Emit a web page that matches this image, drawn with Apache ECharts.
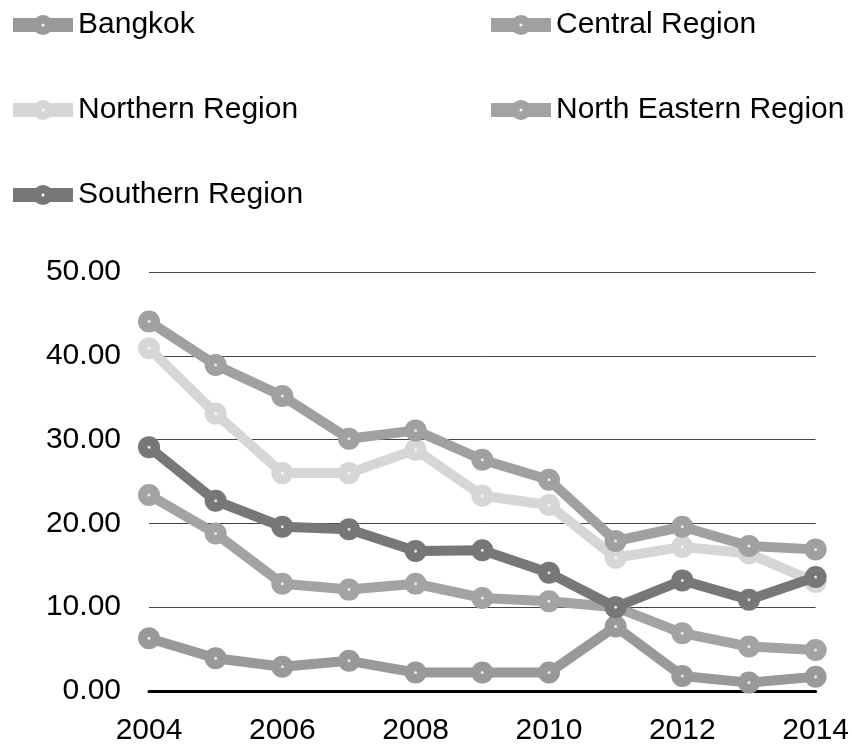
<!DOCTYPE html>
<html>
<head>
<meta charset="utf-8">
<title>Regions 2004-2014</title>
<script src="https://cdn.jsdelivr.net/npm/echarts@6/dist/echarts.min.js"></script>
<style>
    html, body { margin: 0; padding: 0; background: #fff; }
    #lineChart { width: 852px; height: 746px; }
</style>
</head>
<body>
<div id="lineChart"></div>
<script>
// data
var years = ['2004', '2005', '2006', '2007', '2008', '2009', '2010', '2011', '2012', '2013', '2014'];
var bangkok = [6.3, 3.9, 2.9, 3.6, 2.2, 2.2, 2.2, 7.7, 1.8, 1.0, 1.7];
var central = [44.1, 38.9, 35.2, 30.1, 31.1, 27.6, 25.2, 17.9, 19.6, 17.3, 16.9];
var northern = [40.9, 33.1, 26.0, 26.0, 28.8, 23.3, 22.2, 15.9, 17.2, 16.4, 13.0];
var northEastern = [23.4, 18.8, 12.8, 12.1, 12.8, 11.1, 10.7, 10.0, 6.9, 5.3, 4.9];
var southern = [29.1, 22.7, 19.6, 19.3, 16.7, 16.8, 14.1, 10.0, 13.2, 10.9, 13.6];
var yTicks = [0, 10, 20, 30, 40, 50];

var FONT = '"Liberation Sans", Arial, sans-serif';

// 图例图标: 粗线 + 圆点, 中间留白点
var LEGEND_ICON = 'path://M0,3 L22.86,3 A10,10 0 0,1 37.14,3 L60,3 L60,17 L37.14,17 A10,10 0 0,1 22.86,17 L0,17 Z ' +
    'M30,8.5 A1.5,1.5 0 1,0 30,11.5 A1.5,1.5 0 1,0 30,8.5 Z';

/**
 * 生成一条折线(带实心圆点)以及圆点中心的小白点
 */
function makeLine(name, data, color, z) {
    return [{
        name: name,
        type: 'line',
        data: data,
        z: z,
        symbol: 'circle',
        symbolSize: 22,
        lineStyle: { color: color, width: 10 },
        itemStyle: { color: color },
        emphasis: { disabled: true },
        animation: false
    }, {
        name: name + ' dot',
        type: 'scatter',
        data: data,
        z: z + 0.5,
        symbol: 'circle',
        symbolSize: 3,
        itemStyle: { color: '#fff' },
        emphasis: { disabled: true },
        silent: true,
        animation: false
    }];
}

/**
 * 生成一列图例
 */
function makeLegend(names, left) {
    return {
        data: names.map(function (n) { return { name: n, icon: LEGEND_ICON }; }),
        orient: 'vertical',
        left: left,
        top: 10,
        padding: 0,
        itemGap: 55,
        itemWidth: 60,
        itemHeight: 20,
        selectedMode: false,
        itemStyle: { borderWidth: 0 },
        textStyle: { fontFamily: FONT, fontSize: 30, color: '#000', lineHeight: 30 }
    };
}

function loadChart() {
    var myChart = echarts.init(document.getElementById('lineChart'));
    var series = [].concat(
        makeLine('Bangkok', bangkok, '#999999', 2),
        makeLine('Central Region', central, '#a0a0a0', 3),
        makeLine('Northern Region', northern, '#d6d6d6', 2),
        makeLine('North Eastern Region', northEastern, '#a3a3a3', 2),
        makeLine('Southern Region', southern, '#777777', 4)
    );
    var option = {
        backgroundColor: '#fff',
        legend: [
            makeLegend(['Bangkok', 'Northern Region', 'Southern Region'], 13),
            makeLegend(['Central Region', 'North Eastern Region'], 491)
        ],
        grid: { left: 149, right: 34, top: 272, bottom: 55 },
        xAxis: {
            type: 'category',
            data: years,
            boundaryGap: false,
            axisLine: { lineStyle: { color: '#000', width: 3 } },
            axisTick: { show: false },
            axisLabel: { interval: 1, fontFamily: FONT, fontSize: 30, color: '#000', margin: 25 },
            splitLine: { show: false }
        },
        yAxis: {
            type: 'value',
            min: yTicks[0],
            max: yTicks[yTicks.length - 1],
            interval: 10,
            axisLine: { show: false },
            axisTick: { show: false },
            axisLabel: {
                fontFamily: FONT, fontSize: 30, color: '#000', margin: 28,
                formatter: function (v) { return v.toFixed(2); }
            },
            splitLine: { lineStyle: { color: '#444', width: 1 } }
        },
        series: series
    };
    myChart.setOption(option, true);
}

loadChart();
</script>
</body>
</html>
